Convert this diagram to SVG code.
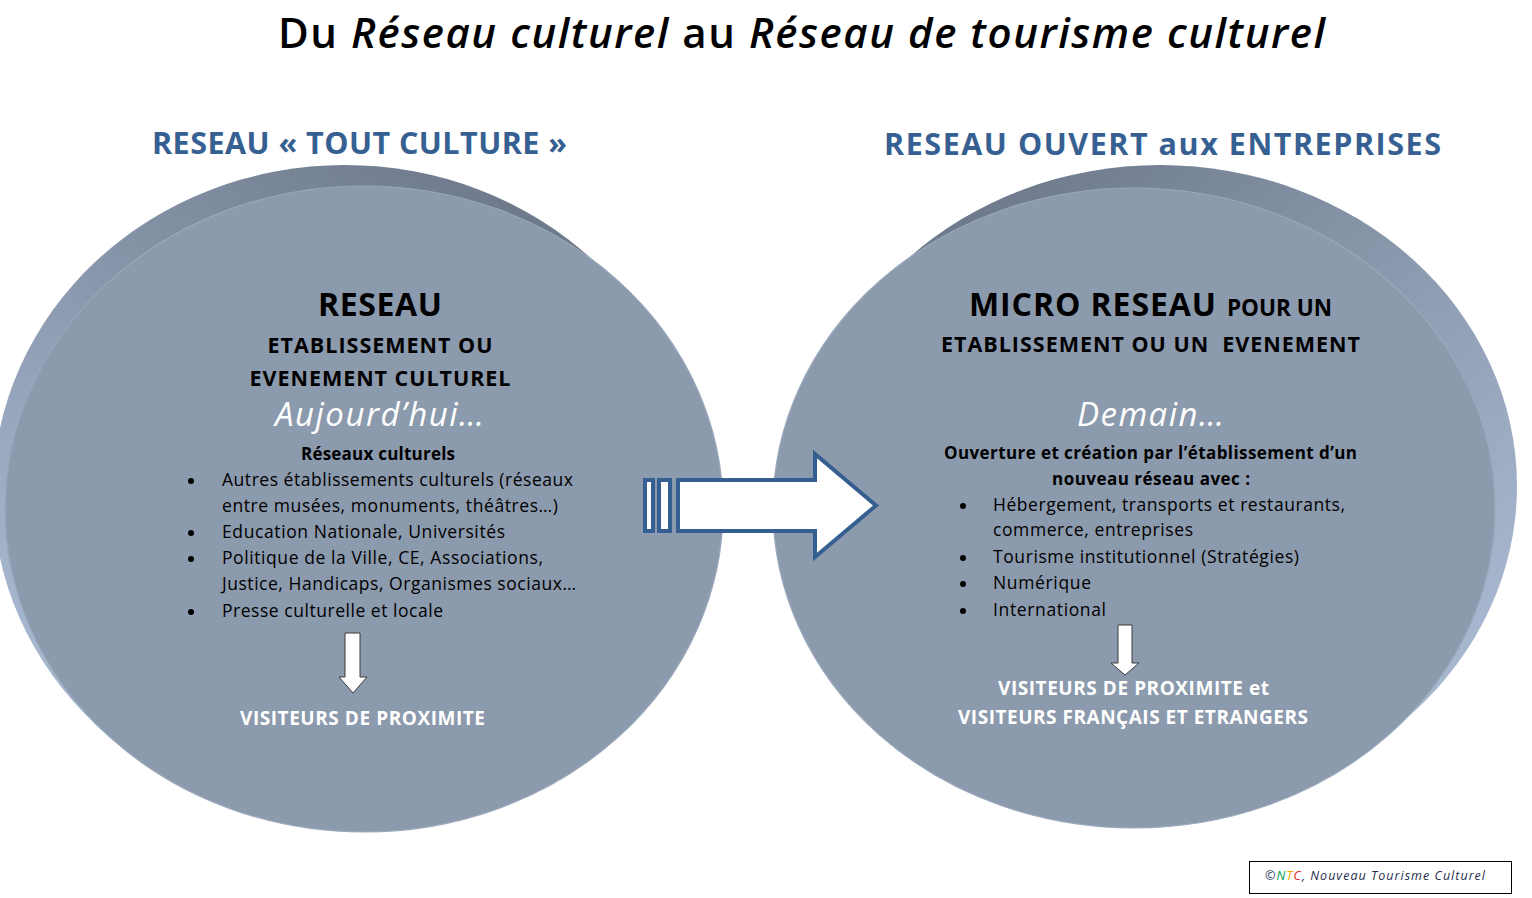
<svg xmlns="http://www.w3.org/2000/svg" width="1532" height="898" viewBox="0 0 1532 898">
<defs>
  <linearGradient id="rimL" x1="0.75" y1="0" x2="0.1" y2="0.75">
    <stop offset="0" stop-color="#6C7888"/>
    <stop offset="0.45" stop-color="#8492A6"/>
    <stop offset="1" stop-color="#A6B6CE"/>
  </linearGradient>
  <linearGradient id="rimR" x1="0.25" y1="0" x2="0.95" y2="0.7">
    <stop offset="0" stop-color="#6C7888"/>
    <stop offset="0.45" stop-color="#8694A8"/>
    <stop offset="1" stop-color="#A6B6CE"/>
  </linearGradient>
  <style>
    .face { fill: #8C9AAD; stroke: #9AA8BB; stroke-width: 1.2; }
    .t { font-family: "Open Sans", "Liberation Sans", sans-serif; }
    .b { font-weight: 700; }
    .blk { fill: #000; }
    .wht { fill: #fff; }
    .blue { fill: #376092; }
    .it { font-style: italic; }
    .li { font-size: 17.5px; fill: #000; }
    .dot { fill: #000; }
    .small-arrow { fill: #fff; stroke: #3a3a3a; stroke-width: 1; }
    .big { fill: #fff; stroke: #365F91; stroke-width: 4; stroke-linejoin: miter; }
  </style>
</defs>
<rect width="1532" height="898" fill="#fff"/>

<g id="title">
  <text class="t blk" x="278" y="48" font-size="42" font-weight="600" textLength="1047">Du <tspan class="it">Réseau culturel</tspan> au <tspan class="it">Réseau de tourisme culturel</tspan></text>
</g>

<g id="heading-left">
  <text class="t b blue" x="152" y="154" font-size="30.5" textLength="415">RESEAU « TOUT CULTURE »</text>
</g>
<g id="heading-right">
  <text class="t b blue" x="884" y="155" font-size="30.5" textLength="557">RESEAU OUVERT aux ENTREPRISES</text>
</g>

<g id="node-left">
  <ellipse cx="345" cy="493" rx="352" ry="328" fill="url(#rimL)"/>
  <ellipse class="face" cx="364" cy="509" rx="359" ry="323"/>
  <text class="t b blk" x="380" y="316" font-size="32" text-anchor="middle" textLength="124">RESEAU</text>
  <text class="t b blk" x="380" y="353" font-size="21.5" text-anchor="middle" textLength="225">ETABLISSEMENT OU</text>
  <text class="t b blk" x="380" y="386" font-size="21.5" text-anchor="middle" textLength="261">EVENEMENT CULTUREL</text>
  <text class="t it wht" x="275" y="426" font-size="33" textLength="209">Aujourd’hui…</text>
  <text class="t b blk" x="301" y="460" font-size="17" textLength="154">Réseaux culturels</text>
  <circle class="dot" cx="191" cy="481" r="3"/>
  <text class="t li" x="222" y="486" textLength="351">Autres établissements culturels (réseaux</text>
  <text class="t li" x="222" y="512" textLength="336">entre musées, monuments, théâtres…)</text>
  <circle class="dot" cx="191" cy="533" r="3"/>
  <text class="t li" x="222" y="538" textLength="283">Education Nationale, Universités</text>
  <circle class="dot" cx="191" cy="559" r="3"/>
  <text class="t li" x="222" y="564" textLength="321">Politique de la Ville, CE, Associations,</text>
  <text class="t li" x="222" y="590" textLength="354">Justice, Handicaps, Organismes sociaux…</text>
  <circle class="dot" cx="191" cy="612" r="3"/>
  <text class="t li" x="222" y="617" textLength="221">Presse culturelle et locale</text>
  <path class="small-arrow" d="M345,633 H360 V677 H367 L353,693 L339,677 H345 Z"/>
  <text class="t b wht" x="240" y="725" font-size="19" textLength="245">VISITEURS DE PROXIMITE</text>
</g>

<g id="node-right">
  <ellipse cx="1160" cy="486" rx="357" ry="321" fill="url(#rimR)"/>
  <ellipse class="face" cx="1134" cy="508" rx="361" ry="320"/>
  <text class="t b blk" x="969" y="316" font-size="32" textLength="247">MICRO RESEAU</text>
  <text class="t b blk" x="1227" y="316" font-size="22.5" textLength="105">POUR UN</text>
  <text class="t b blk" x="941" y="352" font-size="21.5" textLength="419" xml:space="preserve">ETABLISSEMENT OU UN  EVENEMENT</text>
  <text class="t it wht" x="1077" y="426" font-size="33" textLength="147">Demain…</text>
  <text class="t b blk" x="944" y="459" font-size="17" textLength="413">Ouverture et création par l’établissement d’un</text>
  <text class="t b blk" x="1052" y="485" font-size="17" textLength="198">nouveau réseau avec :</text>
  <circle class="dot" cx="963" cy="506" r="3"/>
  <text class="t li" x="993" y="511" textLength="352">Hébergement, transports et restaurants,</text>
  <text class="t li" x="993" y="536" textLength="200">commerce, entreprises</text>
  <circle class="dot" cx="963" cy="558" r="3"/>
  <text class="t li" x="993" y="563" textLength="306">Tourisme institutionnel (Stratégies)</text>
  <circle class="dot" cx="963" cy="584" r="3"/>
  <text class="t li" x="993" y="589" textLength="98">Numérique</text>
  <circle class="dot" cx="963" cy="611" r="3"/>
  <text class="t li" x="993" y="616" textLength="113">International</text>
  <path class="small-arrow" d="M1118,625 H1132 V663 H1139 L1125,675 L1111,663 H1118 Z"/>
  <text class="t b wht" x="998" y="695" font-size="19" textLength="271">VISITEURS DE PROXIMITE et</text>
  <text class="t b wht" x="958" y="724" font-size="19" textLength="350">VISITEURS FRANÇAIS ET ETRANGERS</text>
</g>

<g id="connectors">
  <rect class="big" x="645" y="480" width="8" height="51"/>
  <rect class="big" x="659" y="480" width="11" height="51"/>
  <path class="big" d="M678,480 H815 V454 L876,505.5 L815,557 V531 H678 Z"/>
</g>

<g id="footer">
  <rect x="1249.5" y="861.5" width="262" height="32" fill="#fff" stroke="#000" stroke-width="1"/>
  <text class="t it" x="1265" y="880" font-size="12.5" textLength="220"><tspan fill="#1F3864">©</tspan><tspan fill="#00A651">N</tspan><tspan fill="#F7A600">T</tspan><tspan fill="#E31E24">C</tspan><tspan fill="#1F2D4E">, Nouveau  Tourisme Culturel</tspan></text>
</g>
</svg>
